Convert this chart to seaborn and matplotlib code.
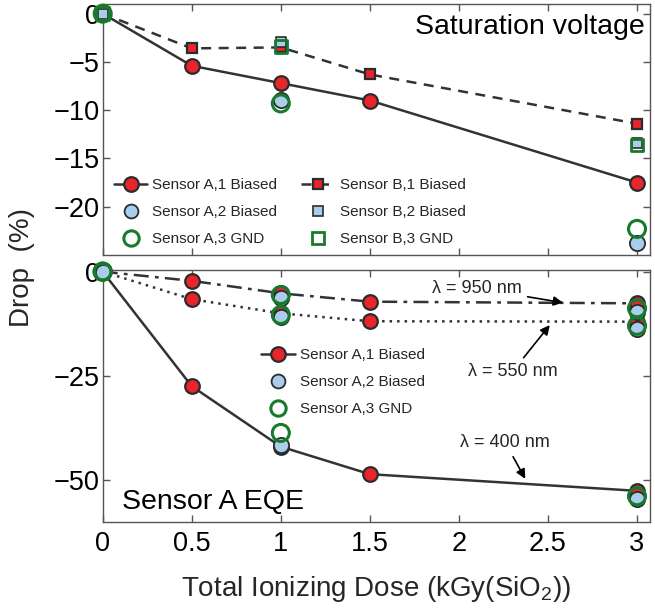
import matplotlib
matplotlib.use("Agg")
import matplotlib.pyplot as plt
import seaborn as sns
import pandas as pd
from matplotlib.lines import Line2D

# ---------------- data ----------------
dose_full = [0, 0.5, 1, 1.5, 3]
dose_sub = [0, 1, 3]
x_ticks = [0, 0.5, 1, 1.5, 2, 2.5, 3]
x_ticklabels = ["0", "0.5", "1", "1.5", "2", "2.5", "3"]

# Saturation voltage drop (%)
sat_A1 = [0, -5.4, -7.2, -9.0, -17.5]
sat_A2 = [0, -8.9, -23.8]
sat_A3 = [0, -9.3, -22.3]
sat_B1 = [0, -3.6, -3.5, -6.3, -11.4]
sat_B2 = [0, -2.9, -13.4]
sat_B3 = [0, -3.4, -13.6]

# Sensor A EQE drop (%)
eqe950_A1 = [0, -2.2, -5.2, -7.2, -7.6]
eqe950_A2 = [0, -6.2, -9.6]
eqe950_A3 = [0, -5.6, -8.8]
eqe550_A1 = [0, -6.6, -10.0, -11.9, -12.0]
eqe550_A2 = [0, -10.8, -13.8]
eqe550_A3 = [0, -10.4, -13.0]
eqe400_A1 = [0, -27.5, -42.0, -48.6, -52.6]
eqe400_A2 = [0, -41.7, -54.5]
eqe400_A3 = [0, -38.7, -53.9]

labels_top = ["Sensor A,1 Biased", "Sensor A,2 Biased", "Sensor A,3 GND",
              "Sensor B,1 Biased", "Sensor B,2 Biased", "Sensor B,3 GND"]
labels_bot = ["Sensor A,1 Biased", "Sensor A,2 Biased", "Sensor A,3 GND"]

# ---------------- style ----------------
sns.set_theme(style="white")
plt.rcParams["font.family"] = ["Liberation Sans", "DejaVu Sans"]
plt.rcParams["mathtext.fontset"] = "custom"
plt.rcParams["mathtext.rm"] = "Liberation Sans"
plt.rcParams["mathtext.it"] = "Liberation Sans"

RED = "#e8252b"
BLUE = "#a9cdea"
GREEN = "#177a2c"
EDGE = "#2b2b2b"
LINE = "#333333"
SPINE = "#555555"

fig = plt.figure(figsize=(6.55, 6.11), dpi=100)
ax1 = fig.add_axes([0.1568, 0.5827, 0.8356, 0.4108])
ax2 = fig.add_axes([0.1568, 0.1462, 0.8356, 0.4119])

MS_C = 10.5
MS_S = 7.5


def line_series(ax, x, y, ls, marker, ms, z=3):
    df = pd.DataFrame({"x": x, "y": y})
    sns.lineplot(data=df, x="x", y="y", ax=ax, color=LINE, linewidth=1.8,
                 linestyle=ls, marker=marker, markersize=ms,
                 markerfacecolor=RED, markeredgecolor=EDGE,
                 markeredgewidth=1.6, legend=False, zorder=z, clip_on=False)


def pts(ax, x, y, marker, size, face, edge, lw, z=4):
    df = pd.DataFrame({"x": x, "y": y})
    sns.scatterplot(data=df, x="x", y="y", ax=ax, marker=marker, s=size,
                    facecolor=face, edgecolor=edge, linewidth=lw,
                    legend=False, zorder=z, clip_on=False)


# ---- top panel: saturation voltage ----
line_series(ax1, dose_full, sat_A1, "-", "o", MS_C, z=3)
line_series(ax1, dose_full, sat_B1, (0, (4, 3)), "s", MS_S, z=3)
pts(ax1, dose_sub, sat_A2, "o", 120, BLUE, EDGE, 1.3, z=4)
pts(ax1, dose_sub, sat_B2, "s", 60, BLUE, EDGE, 1.2, z=4)
pts(ax1, dose_sub, sat_A3, "o", 150, "none", GREEN, 2.2, z=5)
pts(ax1, dose_sub, sat_B3, "s", 80, "none", GREEN, 2.0, z=5)

ax1.set_xlim(0, 3.073)
ax1.set_ylim(-25, 1)
ax1.set_yticks([0, -5, -10, -15, -20])
ax1.set_yticklabels(["0", "\u22125", "\u221210", "\u221215", "\u221220"])
ax1.set_xticks(x_ticks)
ax1.set_xticklabels([])
ax1.text(0.99, 0.96, "Saturation voltage", transform=ax1.transAxes,
         ha="right", va="top", fontsize=20.5, color="black")

h_top = [
    Line2D([], [], color=LINE, lw=1.8, ls="-", marker="o", ms=MS_C,
           mfc=RED, mec=EDGE, mew=1.6),
    Line2D([], [], ls="none", marker="o", ms=MS_C * 0.95, mfc=BLUE, mec=EDGE, mew=1.3),
    Line2D([], [], ls="none", marker="o", ms=MS_C * 1.05, mfc="none", mec=GREEN, mew=2.2),
    Line2D([], [], color=LINE, lw=1.8, ls=(0, (4, 3)), marker="s", ms=MS_S,
           mfc=RED, mec=EDGE, mew=1.6),
    Line2D([], [], ls="none", marker="s", ms=MS_S, mfc=BLUE, mec=EDGE, mew=1.2),
    Line2D([], [], ls="none", marker="s", ms=MS_S * 1.1, mfc="none", mec=GREEN, mew=2.0),
]
ax1.legend(h_top, labels_top, ncol=2, frameon=False, loc="lower left",
           bbox_to_anchor=(-0.005, -0.02), fontsize=11, handlelength=2.2,
           columnspacing=1.6, labelspacing=0.85, handletextpad=0.3)

# ---- bottom panel: sensor A EQE ----
line_series(ax2, dose_full, eqe950_A1, (0, (6, 2.5, 1.5, 2.5)), "o", MS_C)
line_series(ax2, dose_full, eqe550_A1, (0, (1, 2)), "o", MS_C)
line_series(ax2, dose_full, eqe400_A1, "-", "o", MS_C)
for arr in (eqe950_A2, eqe550_A2, eqe400_A2):
    pts(ax2, dose_sub, arr, "o", 120, BLUE, EDGE, 1.3, z=4)
for arr in (eqe950_A3, eqe550_A3, eqe400_A3):
    pts(ax2, dose_sub, arr, "o", 150, "none", GREEN, 2.2, z=5)

ax2.set_xlim(0, 3.073)
ax2.set_ylim(-60, 0.4)
ax2.set_yticks([0, -25, -50])
ax2.set_yticklabels(["0", "\u221225", "\u221250"])
ax2.set_xticks(x_ticks)
ax2.set_xticklabels(x_ticklabels)
ax2.text(0.035, 0.025, "Sensor A EQE", transform=ax2.transAxes,
         ha="left", va="bottom", fontsize=20.5, color="black")

arrow = dict(arrowstyle="-|>", color="black", lw=1.2, mutation_scale=14)
ax2.annotate("\u03bb = 950 nm", xy=(2.6, -7.55), xytext=(2.1, -4.0),
             ha="center", va="center", fontsize=13, arrowprops=arrow)
ax2.annotate("\u03bb = 550 nm", xy=(2.52, -12.3), xytext=(2.3, -24.0),
             ha="center", va="center", fontsize=13, arrowprops=arrow)
ax2.annotate("\u03bb = 400 nm", xy=(2.38, -50.3), xytext=(2.26, -41.0),
             ha="center", va="center", fontsize=13, arrowprops=arrow)

h_bot = h_top[:3]
ax2.legend(h_bot, labels_bot, frameon=False, loc="upper left",
           bbox_to_anchor=(0.265, 0.745), fontsize=11, handlelength=2.2,
           labelspacing=0.85, handletextpad=0.3)

for ax in (ax1, ax2):
    ax.set_xlabel("")
    ax.set_ylabel("")
    for sp in ax.spines.values():
        sp.set_visible(True)
        sp.set_color(SPINE)
        sp.set_linewidth(1.0)
    ax.tick_params(axis="both", which="major", direction="in", length=5,
                   width=1.0, color=SPINE, top=True, right=True,
                   bottom=True, left=True, labelsize=19.5, pad=2,
                   labelcolor="black")
ax2.tick_params(axis="x", pad=7)

ax2.set_xlabel("Total Ionizing Dose (kGy(SiO$_2$))", fontsize=20, labelpad=12)
fig.text(0.034, 0.562, "Drop  (%)", rotation=90, ha="center", va="center",
         fontsize=20)

fig.savefig("out.png", dpi=100)
